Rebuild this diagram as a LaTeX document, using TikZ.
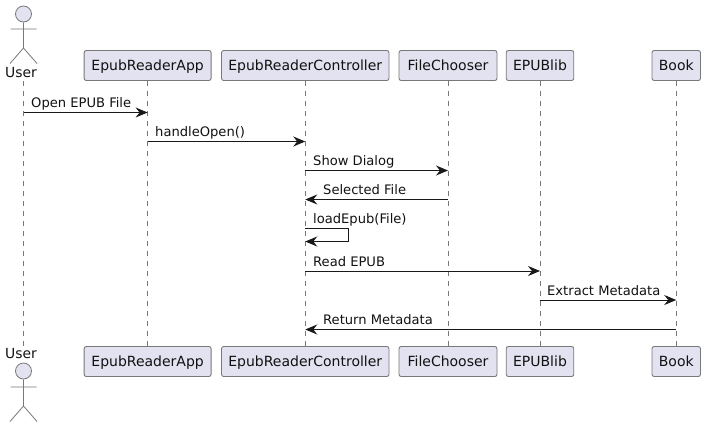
\documentclass[tikz,border=0pt]{standalone}
\usepackage{fontspec}
\setmainfont{DejaVu Sans}
\usetikzlibrary{arrows.meta}
\definecolor{pfill}{HTML}{E2E2F0}
\definecolor{pline}{HTML}{787878}
\definecolor{lline}{HTML}{787878}
\definecolor{txt}{HTML}{111111}
\tikzset{
  x=1bp,y=-1bp,
  part/.style={draw=pline,fill=pfill,rounded corners=2.2bp,line width=0.9bp,minimum height=30bp,inner xsep=0pt,inner ysep=0pt,text height=9.5bp,text depth=0bp,text=txt,font=\fontsize{14bp}{16bp}\selectfont,anchor=center},
  life/.style={draw=lline,line width=0.8bp,dash pattern=on 5bp off 5bp},
  msg/.style={draw=black!90,line width=0.95bp,-{Stealth[length=12bp,width=10bp,inset=4bp]}},
  lab/.style={font=\fontsize{13.1bp}{15bp}\selectfont,text=txt,anchor=base west,inner sep=0pt},
  stick/.style={draw=pline,line width=0.8bp},
  head/.style={draw=pline,fill=pfill,line width=0.8bp,circle,minimum size=16bp,inner sep=0pt},
}
\begin{document}
\begin{tikzpicture}
\useasboundingbox (0,0) rectangle (705,427);
% participants, top row
\node[part,minimum width=127bp] (a) at (147.6,65.5) {EpubReaderApp};
\node[part,minimum width=167.5bp] (c) at (305.25,65.5) {EpubReaderController};
\node[part,minimum width=98bp] (f) at (448,65.5) {FileChooser};
\node[part,minimum width=67.5bp] (e) at (540,65.5) {EPUBlib};
\node[part,minimum width=48.5bp] (b) at (676.25,65.5) {Book};
% participants, bottom row
\node[part,minimum width=127bp] (a2) at (147.6,361.5) {EpubReaderApp};
\node[part,minimum width=167.5bp] (c2) at (305.25,361.5) {EpubReaderController};
\node[part,minimum width=98bp] (f2) at (448,361.5) {FileChooser};
\node[part,minimum width=67.5bp] (e2) at (540,361.5) {EPUBlib};
\node[part,minimum width=48.5bp] (b2) at (676.25,361.5) {Book};
% actor labels
\node[font=\fontsize{13.9bp}{16bp}\selectfont,text=txt,inner sep=0pt] (u) at (21,73) {User};
\node[font=\fontsize{13.9bp}{16bp}\selectfont,text=txt,inner sep=0pt] (u2) at (21,354) {User};
\coordinate (ut) at (23.5,81);
\coordinate (ub) at (23.5,346);
% lifelines
\draw[life] (ut) -- (ub);
\draw[life] (a.south) -- (a2.north);
\draw[life] (c.south) -- (c2.north);
\draw[life] (f.south) -- (f2.north);
\draw[life] (e.south) -- (e2.north);
\draw[life] (b.south) -- (b2.north);
% actors
\node[head] (h) at (23.5,14) {};
\draw[stick] (h.south) -- (23.5,48) -- (10,63.5) (23.5,48) -- (37,63.5) (10.5,29) -- (36.5,29);
\node[head] (h2) at (23.5,371) {};
\draw[stick] (h2.south) -- (23.5,406) -- (10,421.5) (23.5,406) -- (37,421.5) (10.5,387) -- (36.5,387);
% messages
\coordinate (y1) at (0,112.5);
\coordinate (y2) at (0,141.5);
\coordinate (y3) at (0,170.5);
\coordinate (y4) at (0,199.5);
\coordinate (y5a) at (0,228.5);
\coordinate (y5b) at (0,241.5);
\coordinate (y6) at (0,271);
\coordinate (y7) at (0,300);
\coordinate (y8) at (0,329.5);
\draw[msg] (ut |- y1) -- (a.south |- y1);
\draw[msg] (a.south |- y2) -- (c.south |- y2);
\draw[msg] (c.south |- y3) -- (f.south |- y3);
\draw[msg] (f.south |- y4) -- (c.south |- y4);
\draw[msg] (c.south |- y5a) -- ++(43.3,0) |- (c.south |- y5b);
\draw[msg] (c.south |- y6) -- (e.south |- y6);
\draw[msg] (e.south |- y7) -- (b.south |- y7);
\draw[msg] (b.south |- y8) -- (c.south |- y8);
% labels
\node[lab] (l1) at (31,107) {Open EPUB File};
\node[lab] (l2) at (155,136) {handleOpen()};
\node[lab] (l3) at (313,165) {Show Dialog};
\node[lab] (l4) at (323,194) {Selected File};
\node[lab] (l5) at (313,223) {loadEpub(File)};
\node[lab] (l6) at (313,266) {Read EPUB};
\node[lab] (l7) at (547,295) {Extract Metadata};
\node[lab] (l8) at (323,324) {Return Metadata};
\end{tikzpicture}
\end{document}
